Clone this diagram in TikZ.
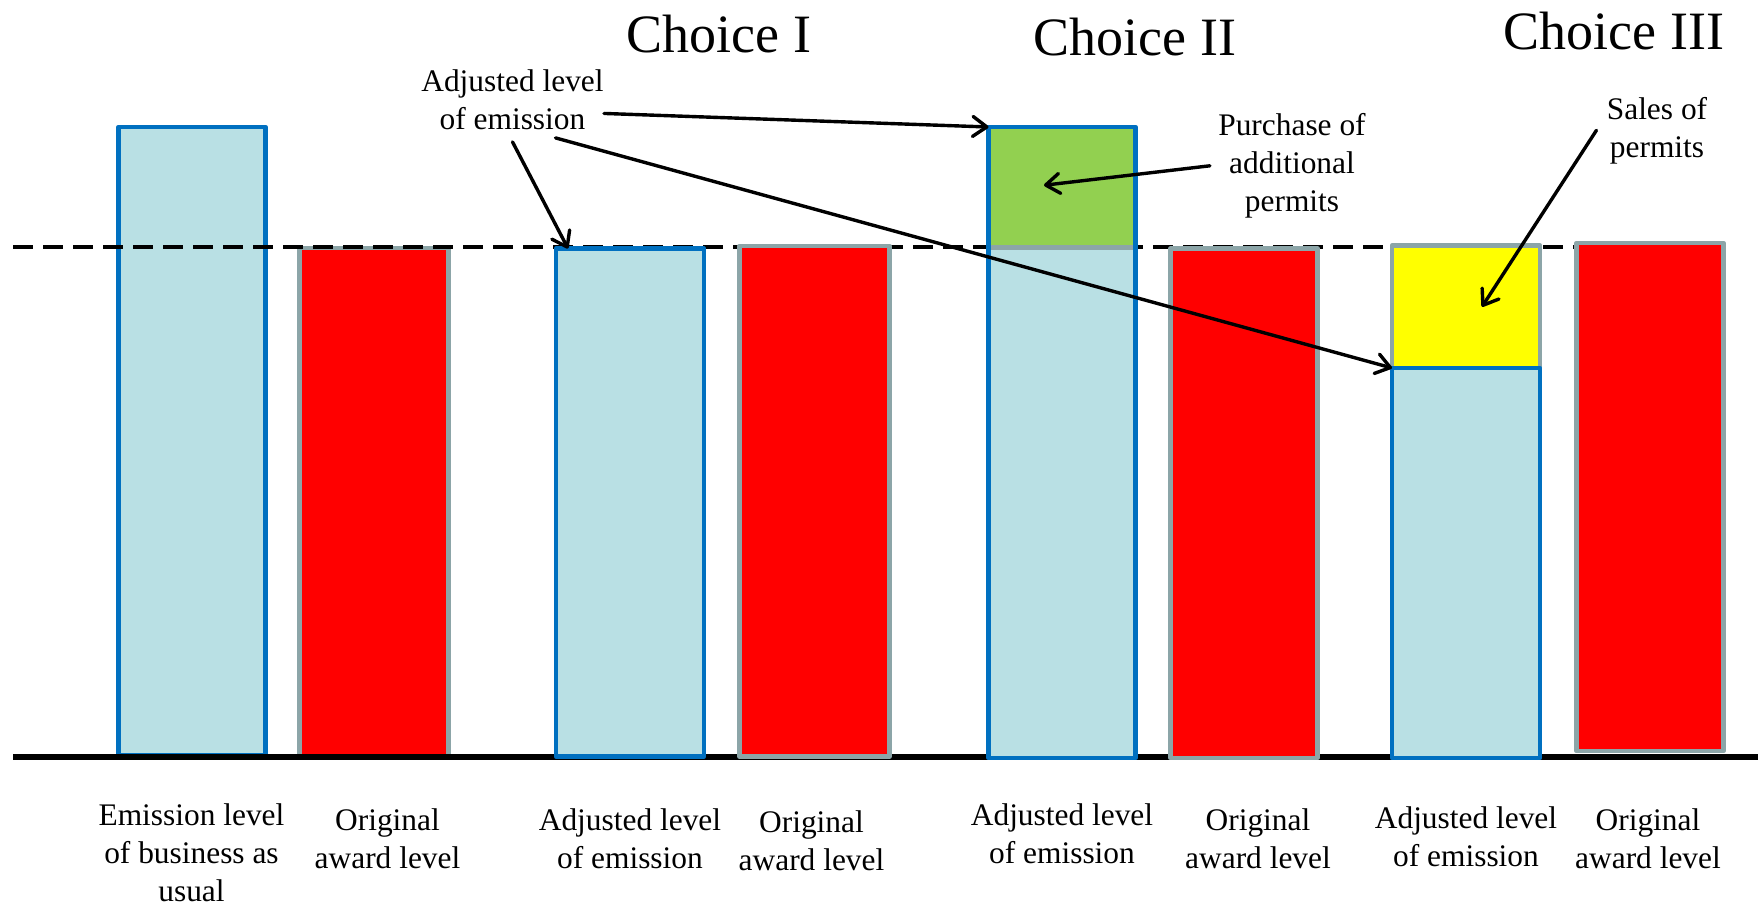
\documentclass[tikz,border=0pt]{standalone}
\usepackage{fontspec}
\setmainfont{Liberation Serif}
\usetikzlibrary{arrows.meta}

\definecolor{barfill}{HTML}{B9E0E4}
\definecolor{barblue}{HTML}{0070C0}
\definecolor{bargray}{HTML}{8CA5A8}
\definecolor{buygreen}{HTML}{92D050}
\definecolor{sellyellow}{HTML}{FFFF00}

\tikzset{
  adjbar/.style={draw=barblue, fill=barfill, line width=2.2pt, line join=round, inner sep=0pt, outer sep=0pt},
  awardbar/.style={draw=bargray, fill=red, line width=2.2pt, line join=round, inner sep=0pt, outer sep=0pt},
  part/.style={inner sep=0pt, outer sep=0pt},
  lbl/.style={font=\fontsize{15.7}{19}\selectfont, align=center, inner sep=0pt, anchor=north},
  choice/.style={font=\fontsize{27}{32}\selectfont, inner sep=0pt, anchor=north},
  pointer/.style={-{Straight Barb[length=7pt,width=10pt,round]}, line width=1.7pt, line cap=round},
}

\begin{document}
\begin{tikzpicture}[x=0.5pt, y=-0.5pt]
        \useasboundingbox (0,0) rectangle (1758,909);

        % Bars
        \node (bau) [adjbar, minimum width=73.5pt, minimum height=314pt] at (192, 441) {};
        \node (award1) [awardbar, minimum width=74.5pt, minimum height=254.5pt] at (374, 502.5) {};

        % Reference lines
        \draw[dash pattern=on 10pt off 5pt, line width=2pt] (13, 247.5) -- (1576, 247.5);
        \draw[line width=3pt] (13, 757) -- (1758, 757);

        \node (adj1) [adjbar, minimum width=74pt, minimum height=254pt] at (630, 502.5) {};
        \node (award2) [awardbar, minimum width=75pt, minimum height=255.25pt] at (814.5, 501.25) {};
        \node (buy) [part, fill=buygreen, minimum width=73.5pt, minimum height=60.25pt] at (1062, 187.25) {};
        \node (adj2) [part, fill=barfill, minimum width=73.5pt, minimum height=255.25pt] at (1062, 502.75) {};
        \draw[bargray, line width=2.2pt] (adj2.north west) -- (adj2.north east);
        \draw[barblue, line width=2.2pt, line join=round] (buy.north west) rectangle (adj2.south east);
        \node (award3) [awardbar, minimum width=73.5pt, minimum height=254.75pt] at (1244, 503.25) {};
        \node (sell) [awardbar, fill=sellyellow, minimum width=74pt, minimum height=61.25pt] at (1466, 306.75) {};
        \node (adj3) [adjbar, minimum width=74pt, minimum height=195pt] at (1466, 563) {};
        \node (award4) [awardbar, minimum width=73.5pt, minimum height=254pt] at (1650, 497) {};

        % Titles
        \node (choice1) [choice] at (719, 15) {Choice I};
        \node (choice2) [choice] at (1135, 18) {Choice II};
        \node (choice3) [choice] at (1614, 11.5) {Choice III};

        % Labels
        \node (adjtop) [lbl] at (512.5, 69) {Adjusted level\\of emission};
        \node (buylbl) [lbl] at (1292, 113) {Purchase of\\additional\\permits};
        \node (salelbl) [lbl] at (1657, 96.5) {Sales of\\permits};

        \node (baulbl) [lbl] at (191.5, 803) {Emission level\\of business as\\usual};
        \node (award1lbl) [lbl] at (387.5, 808) {Original\\award level};
        \node (adj1lbl) [lbl] at (630, 808) {Adjusted level\\of emission};
        \node (award2lbl) [lbl] at (811.5, 810) {Original\\award level};
        \node (adj2lbl) [lbl] at (1062, 803) {Adjusted level\\of emission};
        \node (award3lbl) [lbl] at (1258, 808) {Original\\award level};
        \node (adj3lbl) [lbl] at (1466, 806) {Adjusted level\\of emission};
        \node (award4lbl) [lbl] at (1648, 808) {Original\\award level};

        % Arrows
        \draw[pointer] ([yshift=-7pt]adjtop.east) -- (buy.north west);
        \draw[pointer] ([yshift=-6pt]adjtop.south) -- ([xshift=6pt]adj1.north west);
        \draw[pointer] ([xshift=21.5pt, yshift=-4pt]adjtop.south) -- (adj3.north west);
        \draw[pointer] ([xshift=-4pt]buylbl.west) -- ([xshift=-9pt, yshift=1pt]buy.center);
        \draw[pointer] ([xshift=-5pt]salelbl.west) -- ([xshift=8pt]sell.center);
    \end{tikzpicture}
\end{document}
